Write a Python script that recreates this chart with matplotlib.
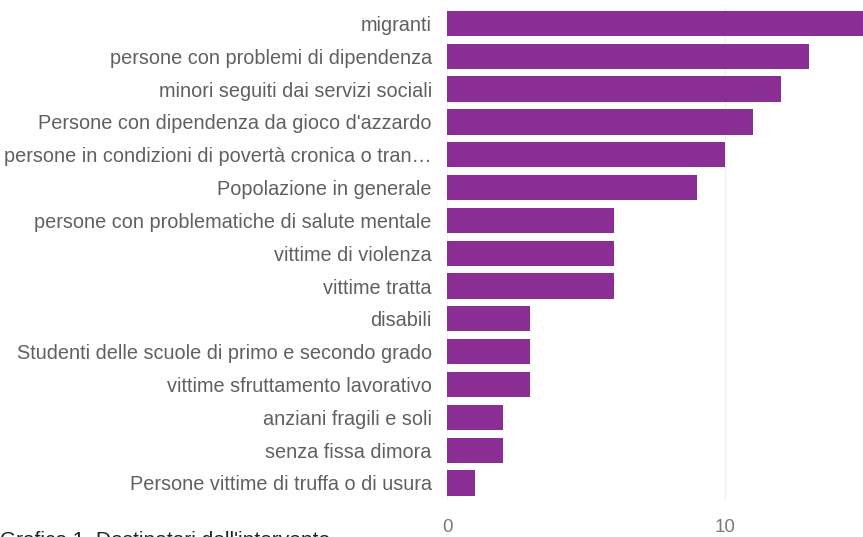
import numpy as np
import matplotlib.pyplot as plt

# =========================================================
# DATA
# =========================================================
categories = [
    "migranti",
    "persone con problemi di dipendenza",
    "minori seguiti dai servizi sociali",
    "Persone con dipendenza da gioco d'azzardo",
    "persone in condizioni di povertà cronica o tran…",
    "Popolazione in generale",
    "persone con problematiche di salute mentale",
    "vittime di violenza",
    "vittime tratta",
    "disabili",
    "Studenti delle scuole di primo e secondo grado",
    "vittime sfruttamento lavorativo",
    "anziani fragili e soli",
    "senza fissa dimora",
    "Persone vittime di truffa o di usura",
]
values = [15, 13, 12, 11, 10, 9, 6, 6, 6, 3, 3, 3, 2, 2, 1]
xticks = [0, 10]
caption = "Grafico 1. Destinatari dell'intervento"

BAR_COLOR = "#8a2d94"

plt.rcParams["font.family"] = ["Liberation Sans", "DejaVu Sans"]

fig = plt.figure(figsize=(8.63, 5.37), dpi=100)
ax = fig.add_axes([0.518, 0.070, 0.482, 0.917])

y = np.arange(len(categories))
ax.barh(y, values, height=0.77, color=BAR_COLOR, zorder=2)
ax.set_yticks(y)
ax.set_yticklabels(categories, fontsize=14.3, color="#606060")
ax.set_ylim(len(categories) - 0.5, -0.5)
ax.set_xlim(0, 14.96)
ax.set_xticks(xticks)
ax.set_xticklabels([str(t) for t in xticks], fontsize=13.5, color="#7a7a7a")
ax.tick_params(axis="y", length=0, pad=11)
ax.tick_params(axis="x", length=0, pad=14)
ax.grid(axis="x", color="#f0f0f0", linewidth=1, zorder=0)
for s in ax.spines.values():
    s.set_visible(False)

# caption sits at the bottom edge and is cut off, as in the source image
fig.text(0.0, 1 - 531 / 537, caption, fontsize=15, color="#222222",
         ha="left", va="top")

fig.savefig("out.png", dpi=100)
